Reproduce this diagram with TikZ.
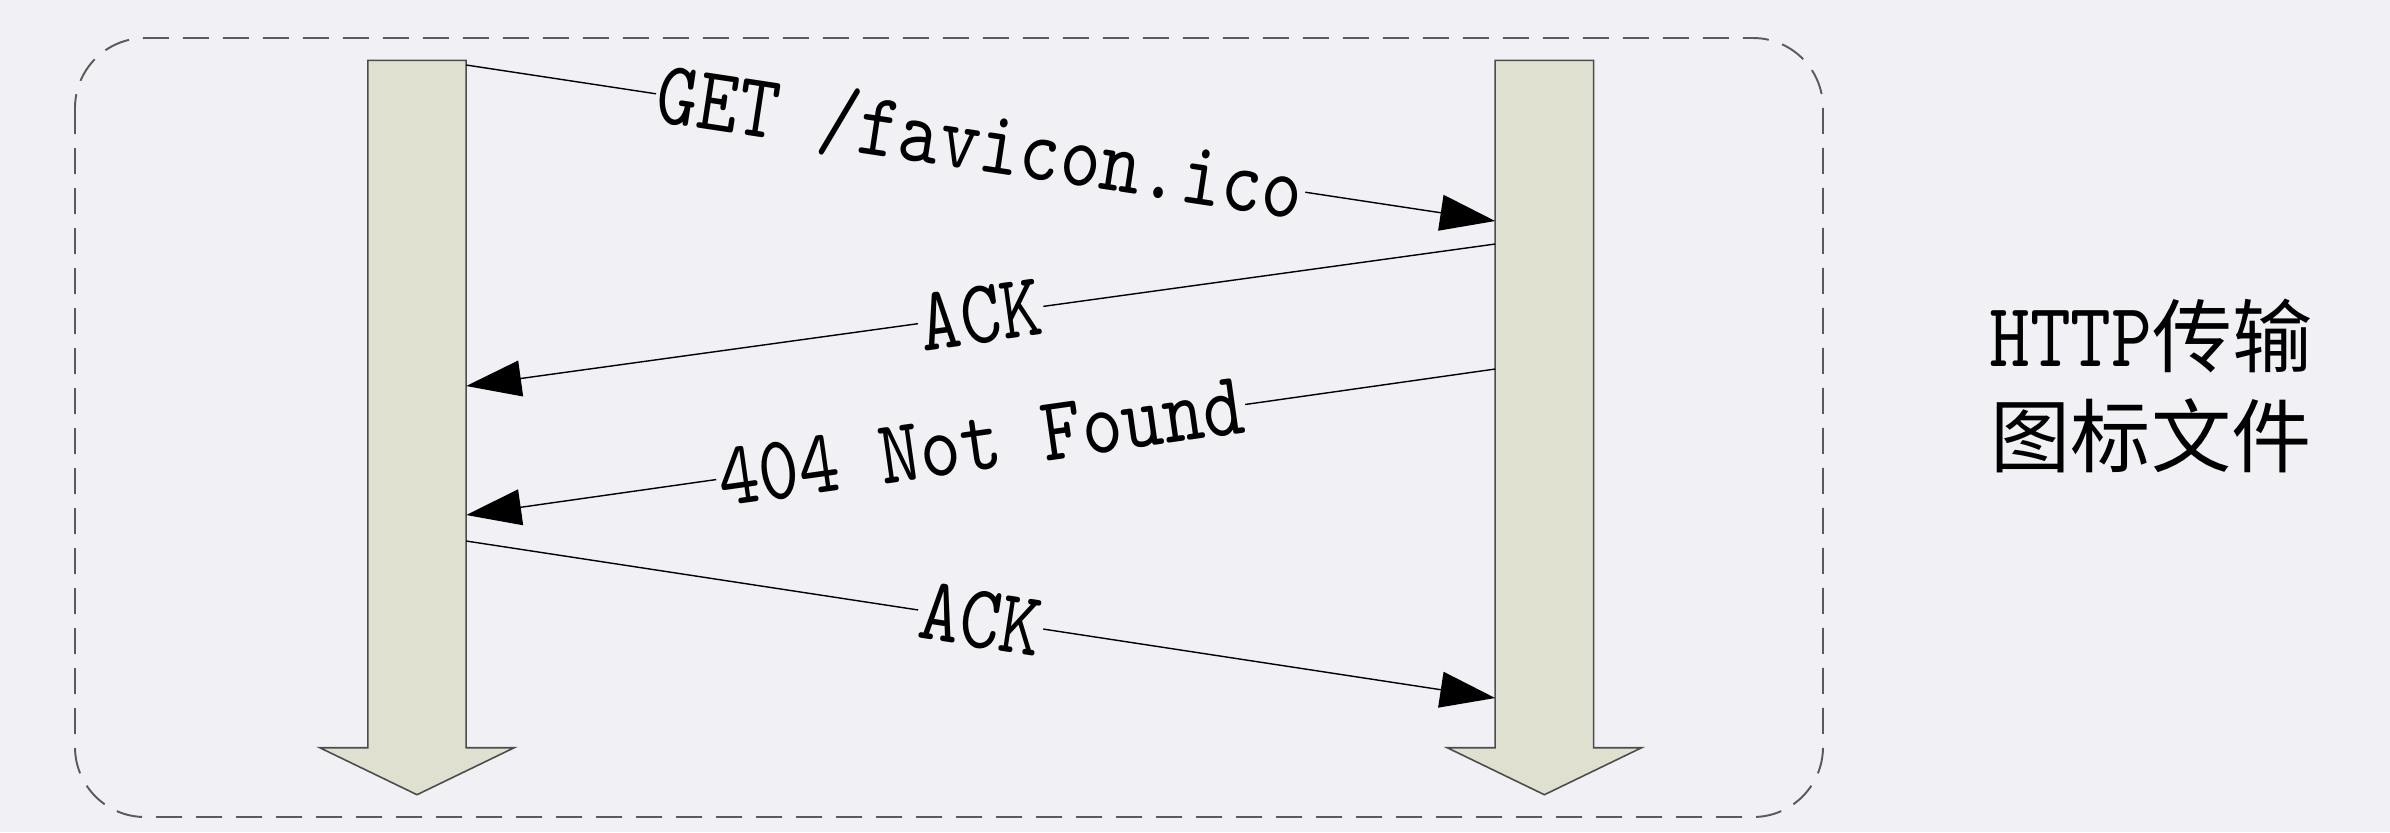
\documentclass[tikz,border=0pt]{standalone}
\usepackage{fontspec}
\usepackage{tikz}
\usetikzlibrary{arrows.meta, positioning}
\newfontfamily\lblfont{lmmono10-regular.otf}[FakeStretch=0.85]
\newfontfamily\cjkfont{Noto Sans CJK SC}
\definecolor{bgcol}{HTML}{F1F0F5}
\definecolor{barcol}{HTML}{DFE0CF}
\definecolor{framecol}{HTML}{5A5A5A}

\begin{document}
\begin{tikzpicture}[
  x=0.1mm, y=-0.1mm,
  lifeline/.style={rectangle, minimum width=9.7mm, minimum height=68.6mm, inner sep=0pt},
  bar/.style={draw=black!70, fill=barcol, line width=0.45pt, line join=miter},
  msg/.style={-{Triangle[length=5.5mm, width=3.6mm]}, draw=black, line width=0.4pt},
  lbl/.style={sloped, fill=bgcol, inner sep=0.2mm,
    font=\lblfont\fontsize{26pt}{28pt}\selectfont}
]

% === Background ===
\fill[bgcol] (0,0) rectangle (2390,832);

% === Frame ===
\draw[framecol, dash pattern=on 2.6mm off 1.4mm, rounded corners=7mm, line width=0.55pt]
  (75,38) rectangle (1823,817);

% === Lifelines ===
\node[lifeline] (cli) at (417,404) {};
\node[lifeline, right=102.9mm of cli] (srv) {};

\foreach \n in {cli, srv}
  \draw[bar] (\n.north west) -- (\n.north east) -- (\n.south east) -- ++(48,0)
    -- ([yshift=-4.7mm]\n.south) -- ([xshift=-4.8mm]\n.south west)
    -- (\n.south west) -- cycle;

% === Messages ===
\draw[msg] (cli.east |- 0,65) -- node[lbl] (m1) {GET /favicon.ico} (srv.west |- 0,221);
\draw[msg] (srv.west |- 0,244) -- node[lbl] (m2) {ACK} (cli.east |- 0,386);
\draw[msg] (srv.west |- 0,369) -- node[lbl] (m3) {404 Not Found} (cli.east |- 0,515);
\draw[msg] (cli.east |- 0,541) -- node[lbl] (m4) {ACK} (srv.west |- 0,698);

% === Caption ===
\node[font=\cjkfont\fontsize{22.8pt}{28.5pt}\selectfont, align=center] (cap) at (2151,386)
  {{\lblfont\fontsize{26pt}{28.5pt}\selectfont HTTP}传输\\图标文件};

\end{tikzpicture}
\end{document}
